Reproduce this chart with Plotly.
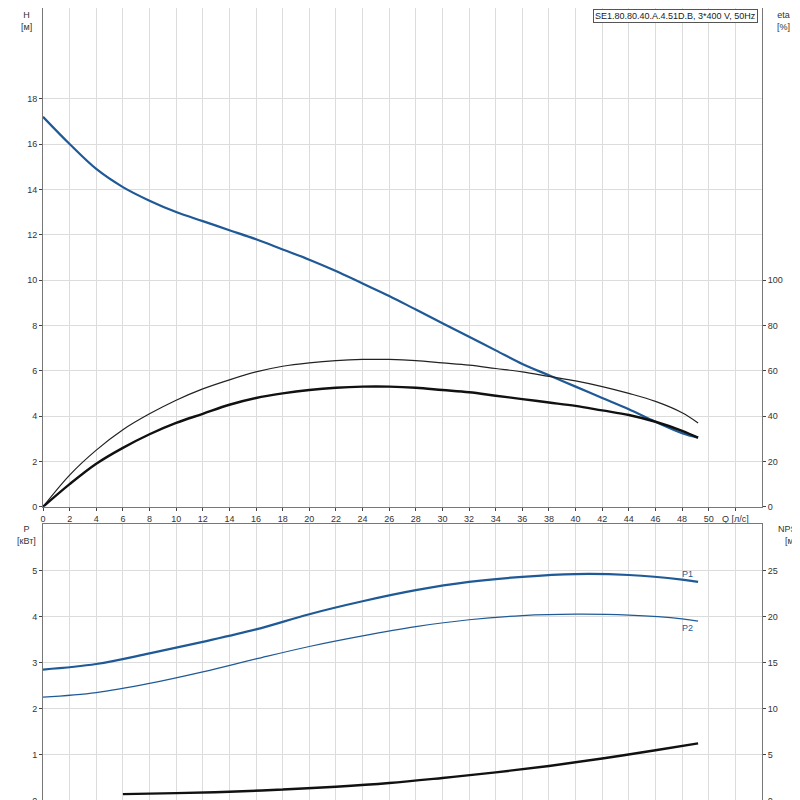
import plotly.graph_objects as go

# Напор H (м)
q_h = [0, 2, 4, 6, 8, 10, 12, 14, 16, 18, 20, 22, 24, 26, 28, 30, 32, 34, 36, 38, 40, 42, 44, 46, 48, 49.2]
h = [17.2, 16.0, 14.9, 14.1, 13.5, 13.0, 12.6, 12.2, 11.8, 11.35, 10.9, 10.4, 9.85, 9.3, 8.7, 8.1,
     7.5, 6.9, 6.3, 5.8, 5.3, 4.8, 4.3, 3.75, 3.25, 3.05]
# КПД (%)
eta_thin = [0, 14, 25, 34, 41, 47, 52, 56, 59.5, 62, 63.5, 64.5, 65, 65, 64.5, 63.5, 62.5, 61, 59.5,
            57.5, 55.5, 53, 50, 46.5, 41.5, 37]
eta_thick = [0, 10, 19, 26, 32, 37, 41, 45, 48, 50, 51.5, 52.5, 53, 53, 52.5, 51.5, 50.5, 49, 47.5,
             46, 44.5, 42.5, 40.5, 37.5, 33.5, 30.5]
# Мощность (кВт)
q_p = [0, 4, 8, 12, 16, 20, 24, 28, 32, 36, 40, 44, 48, 49.2]
p1 = [2.85, 2.97, 3.2, 3.45, 3.72, 4.05, 4.33, 4.57, 4.75, 4.86, 4.92, 4.9, 4.8, 4.75]
p2 = [2.25, 2.35, 2.55, 2.8, 3.08, 3.35, 3.58, 3.78, 3.93, 4.02, 4.05, 4.03, 3.95, 3.9]
# NPSH (м)
q_n = [6, 10, 14, 18, 22, 26, 30, 34, 38, 42, 46, 49.2]
npsh = [0.75, 0.85, 1.0, 1.25, 1.55, 1.95, 2.5, 3.1, 3.8, 4.6, 5.5, 6.25]

blue = "#1f5a96"
fig = go.Figure()
fig.add_scatter(x=q_h, y=h, mode="lines", line=dict(color=blue, width=2.2, shape="spline"), xaxis="x", yaxis="y")
fig.add_scatter(x=q_h, y=eta_thin, mode="lines", line=dict(color="#222", width=1.2, shape="spline"), xaxis="x", yaxis="y2")
fig.add_scatter(x=q_h, y=eta_thick, mode="lines", line=dict(color="#111", width=2.4, shape="spline"), xaxis="x", yaxis="y2")
fig.add_scatter(x=q_p, y=p1, mode="lines", line=dict(color=blue, width=2.2, shape="spline"), xaxis="x2", yaxis="y3")
fig.add_scatter(x=q_p, y=p2, mode="lines", line=dict(color=blue, width=1.2, shape="spline"), xaxis="x2", yaxis="y3")
fig.add_scatter(x=q_n, y=npsh, mode="lines", line=dict(color="#111", width=2.4, shape="spline"), xaxis="x2", yaxis="y4")

grid = "#dcdcdc"
frame = "#777"
tick = dict(size=9, color="#333", family="Arial")
xt = list(range(0, 52, 2))
fig.update_layout(
    width=800, height=800, showlegend=False,
    margin=dict(l=35, r=46, t=0, b=7),
    plot_bgcolor="white", paper_bgcolor="white",
    font=dict(family="Arial", size=9, color="#333"),
    xaxis=dict(domain=[0, 1], range=[0, 54], anchor="y", tickvals=xt + [52],
               ticktext=[str(v) for v in xt] + ["Q [л/с]"], gridcolor=grid, showline=True,
               linecolor=frame, mirror=True, ticks="outside", ticklen=3, tickfont=tick,
               zeroline=False, automargin=False),
    yaxis=dict(domain=[0.371, 1], range=[0, 22], tickvals=list(range(0, 20, 2)),
               gridcolor=grid, showline=True, linecolor=frame, ticks="outside", ticklen=3,
               tickfont=tick, zeroline=False, automargin=False),
    yaxis2=dict(overlaying="y", side="right", range=[0, 220], tickvals=list(range(0, 120, 20)),
                showgrid=False, showline=True, linecolor=frame, ticks="outside", ticklen=3,
                tickfont=tick, zeroline=False, automargin=False),
    xaxis2=dict(domain=[0, 1], range=[0, 54], anchor="y3", dtick=2, showticklabels=False,
                gridcolor=grid, showline=True, linecolor=frame, mirror=True, zeroline=False,
                automargin=False),
    yaxis3=dict(domain=[0, 0.349], range=[0, 6], anchor="x2", tickvals=list(range(0, 6)),
                gridcolor=grid, showline=True, linecolor=frame, ticks="outside", ticklen=3,
                tickfont=tick, zeroline=False, automargin=False),
    yaxis4=dict(overlaying="y3", anchor="x2", side="right", range=[0, 30], tickvals=list(range(0, 30, 5)),
                showgrid=False, showline=True, linecolor=frame, ticks="outside", ticklen=3,
                tickfont=tick, zeroline=False, automargin=False),
)

def note(x, y, text, xanchor="center", color="#333", **kw):
    fig.add_annotation(x=x, y=y, xref="paper", yref="paper", text=text, showarrow=False,
                       xanchor=xanchor, yanchor="top", font=dict(size=9, color=color), **kw)

note(-0.023, 1.0, "H<br>[м]")
note(1.03, 1.0, "eta<br>[%]")
note(-0.023, 0.352, "P<br>[кВт]")
note(1.04, 0.352, "NPSH<br>[м]")
fig.add_annotation(x=0.995, y=0.999, xref="paper", yref="paper", text="SE1.80.80.40.A.4.51D.B, 3*400 V, 50Hz",
                   showarrow=False, xanchor="right", yanchor="top", font=dict(size=9, color="#222"),
                   bgcolor="white", bordercolor="#555", borderwidth=1, borderpad=1)
fig.add_annotation(x=48.4, y=4.77, xref="x2", yref="y3", text="P1", showarrow=False, yanchor="bottom",
                   font=dict(size=9, color=blue))
fig.add_annotation(x=48.4, y=3.9, xref="x2", yref="y3", text="P2", showarrow=False, yanchor="top",
                   font=dict(size=9, color=blue))

fig.write_html("out.html")
